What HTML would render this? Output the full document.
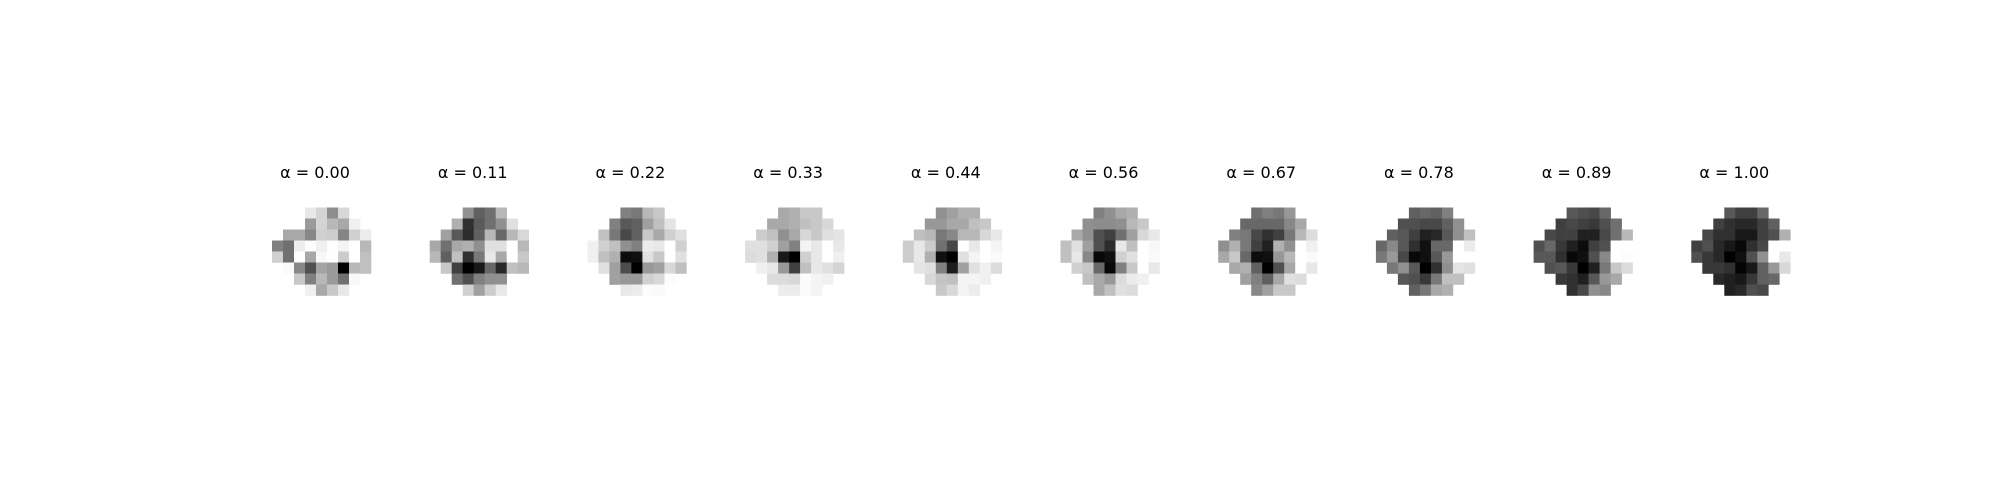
<!DOCTYPE html>
<html><head><meta charset="utf-8">
<style>
html,body{margin:0;padding:0;background:#fff;}
svg{display:block;}
text{font-family:"DejaVu Sans","Liberation Sans",sans-serif;font-size:16px;fill:#000;}
</style></head>
<body>
<svg id="chart" width="2000" height="500" viewBox="0 0 2000 500" xmlns="http://www.w3.org/2000/svg">
<rect width="2000" height="500" fill="#fff"/>
</svg>
<script>
const titles = ["α = 0.00","α = 0.11","α = 0.22","α = 0.33","α = 0.44","α = 0.56","α = 0.67","α = 0.78","α = 0.89","α = 1.00"];
const img0 = [
"..,..,..,e8,d4,8e,d8,..,..",
"..,..,..,9a,d4,b8,a8,f0,..",
"..,a8,a8,88,d0,cc,84,d0,ec",
"80,70,ee,fc,f0,fe,f4,ff,b8",
"d0,70,ff,a8,f8,ff,cc,ff,c0",
"..,fa,88,50,a4,9a,00,b8,c0",
"..,..,c8,80,b8,9a,70,f8,..",
"..,..,..,f0,a8,c8,e8,..,.."];
const img1 = [
"..,..,..,90,60,70,b8,..,..",
"..,..,b0,30,5a,70,90,e0,..",
"..,a0,58,2c,60,b8,68,b8,d8",
"a8,70,a8,b0,90,e0,e0,ff,b8",
"b8,60,c0,30,78,e8,a8,ff,c8",
"..,c8,40,00,18,68,28,c0,b8",
"..,..,70,50,80,90,90,..,..",
"..,..,..,d0,a0,cc,e8,..,.."];
const img2 = [
"..,..,..,80,78,b8,c8,..,..",
"..,..,80,58,60,a0,c0,e4,..",
"..,c0,78,48,60,c8,a8,d0,e0",
"f0,d0,c0,90,80,ec,e8,ff,d0",
"f0,c0,b0,0c,10,e0,c8,ff,e0",
"..,e0,a0,4c,00,98,a0,d8,c0",
"..,..,a0,98,98,d0,d8,fc,..",
"..,..,..,e8,ec,fc,fa,..,.."];
const img3 = [
"..,..,..,a8,b0,c8,c8,..,..",
"..,..,a8,a8,b0,c0,c8,d8,..",
"..,cc,c0,90,a8,d8,c8,e0,e4",
"e0,e0,d0,a0,80,f4,e8,ff,e8",
"dc,e0,b0,18,00,d0,e8,ff,f0",
"..,f0,e8,98,40,c0,e8,e0,d4",
"..,..,dc,dc,d8,fc,f4,f0,..",
"..,..,..,ec,ec,fc,f4,..,.."];
const img4 = [
"..,..,..,90,a0,b0,b0,..,..",
"..,..,98,98,a8,a8,c0,c8,..",
"..,c0,b8,78,88,b8,b8,d8,e8",
"cc,e8,cc,70,48,ff,e8,ff,f4",
"cc,e8,b0,10,00,e0,f4,ff,fa",
"..,e4,e0,80,1c,a0,e0,f0,dc",
"..,..,d8,c4,c0,f4,f4,f0,..",
"..,..,..,c8,d8,f4,ec,..,.."];
const img5 = [
"..,..,..,80,90,a8,b0,..,..",
"..,..,90,8c,8c,90,b8,c8,..",
"..,a8,90,50,40,70,a0,d8,e8",
"c0,e0,a0,50,2c,e8,c0,ff,f8",
"c0,e8,88,08,10,d0,e0,ff,fa",
"..,d0,c8,68,08,80,c8,ff,e8",
"..,..,c0,a8,98,dc,ec,f0,..",
"..,..,..,a8,c0,e0,dc,..,.."];
const img6 = [
"..,..,..,70,80,78,98,..,..",
"..,..,68,68,68,68,88,a8,..",
"..,80,78,48,30,40,78,b8,dc",
"90,b0,78,40,20,b0,90,ff,f0",
"a8,c8,68,0c,10,98,b8,ff,fa",
"..,a8,b0,60,00,50,a8,ff,e8",
"..,..,a0,80,60,a8,e0,dc,..",
"..,..,..,88,a0,c8,c8,..,.."];
const img7 = [
"..,..,..,60,68,60,80,..,..",
"..,..,50,50,48,48,60,90,..",
"..,60,58,40,20,28,58,90,c0",
"68,88,58,30,10,68,68,ff,ec",
"78,98,48,08,10,58,98,ff,ff",
"..,78,90,58,00,30,90,e4,e0",
"..,..,58,50,38,78,c0,c0,..",
"..,..,..,60,78,a8,b0,..,.."];
const img8 = [
"..,..,..,58,50,48,68,..,..",
"..,..,40,48,40,38,50,70,..",
"..,48,40,40,20,20,48,70,b8",
"50,68,38,20,0c,40,50,ff,ff",
"58,58,30,08,10,50,88,ff,fc",
"..,50,58,38,00,20,78,c8,dc",
"..,..,38,30,20,58,98,a8,..",
"..,..,..,30,48,90,88,..,.."];
const img9 = [
"..,..,..,58,40,40,68,..,..",
"..,..,40,30,28,28,40,60,..",
"..,48,30,30,18,18,40,50,b0",
"40,50,28,18,08,30,48,ff,ff",
"50,38,28,00,10,50,90,ff,e8",
"..,38,38,30,04,18,60,98,d8",
"..,..,28,20,18,38,60,68,..",
"..,..,..,20,28,50,48,..,.."];
const images = [img0,img1,img2,img3,img4,img5,img6,img7,img8,img9];

const NS = "http://www.w3.org/2000/svg";
const svg = document.getElementById('chart');
const x0 = 272, pitch = 157.7, cell = 11, top0 = 207.5;
images.forEach((img, p) => {
  const left = x0 + p * pitch;
  const g = document.createElementNS(NS, 'g');
  
  
  svg.appendChild(g);
  const t = document.createElementNS(NS, 'text');
  
  
  t.setAttribute('x', left + 43);
  t.setAttribute('y', 178);
  t.setAttribute('text-anchor', 'middle');
  t.textContent = titles[p];
  g.appendChild(t);
  img.forEach((row, r) => {
    row.split(',').forEach((v, c) => {
      if (v === '..') return;
      const n = parseInt(v, 16);
      const rc = document.createElementNS(NS, 'rect');
      
      
      rc.setAttribute('x', left + c * cell);
      rc.setAttribute('y', top0 + r * cell);
      rc.setAttribute('width', cell + 0.3);
      rc.setAttribute('height', cell + 0.3);
      rc.setAttribute('fill', `rgb(${n},${n},${n})`);
      g.appendChild(rc);
    });
  });
});
</script>
</body></html>
